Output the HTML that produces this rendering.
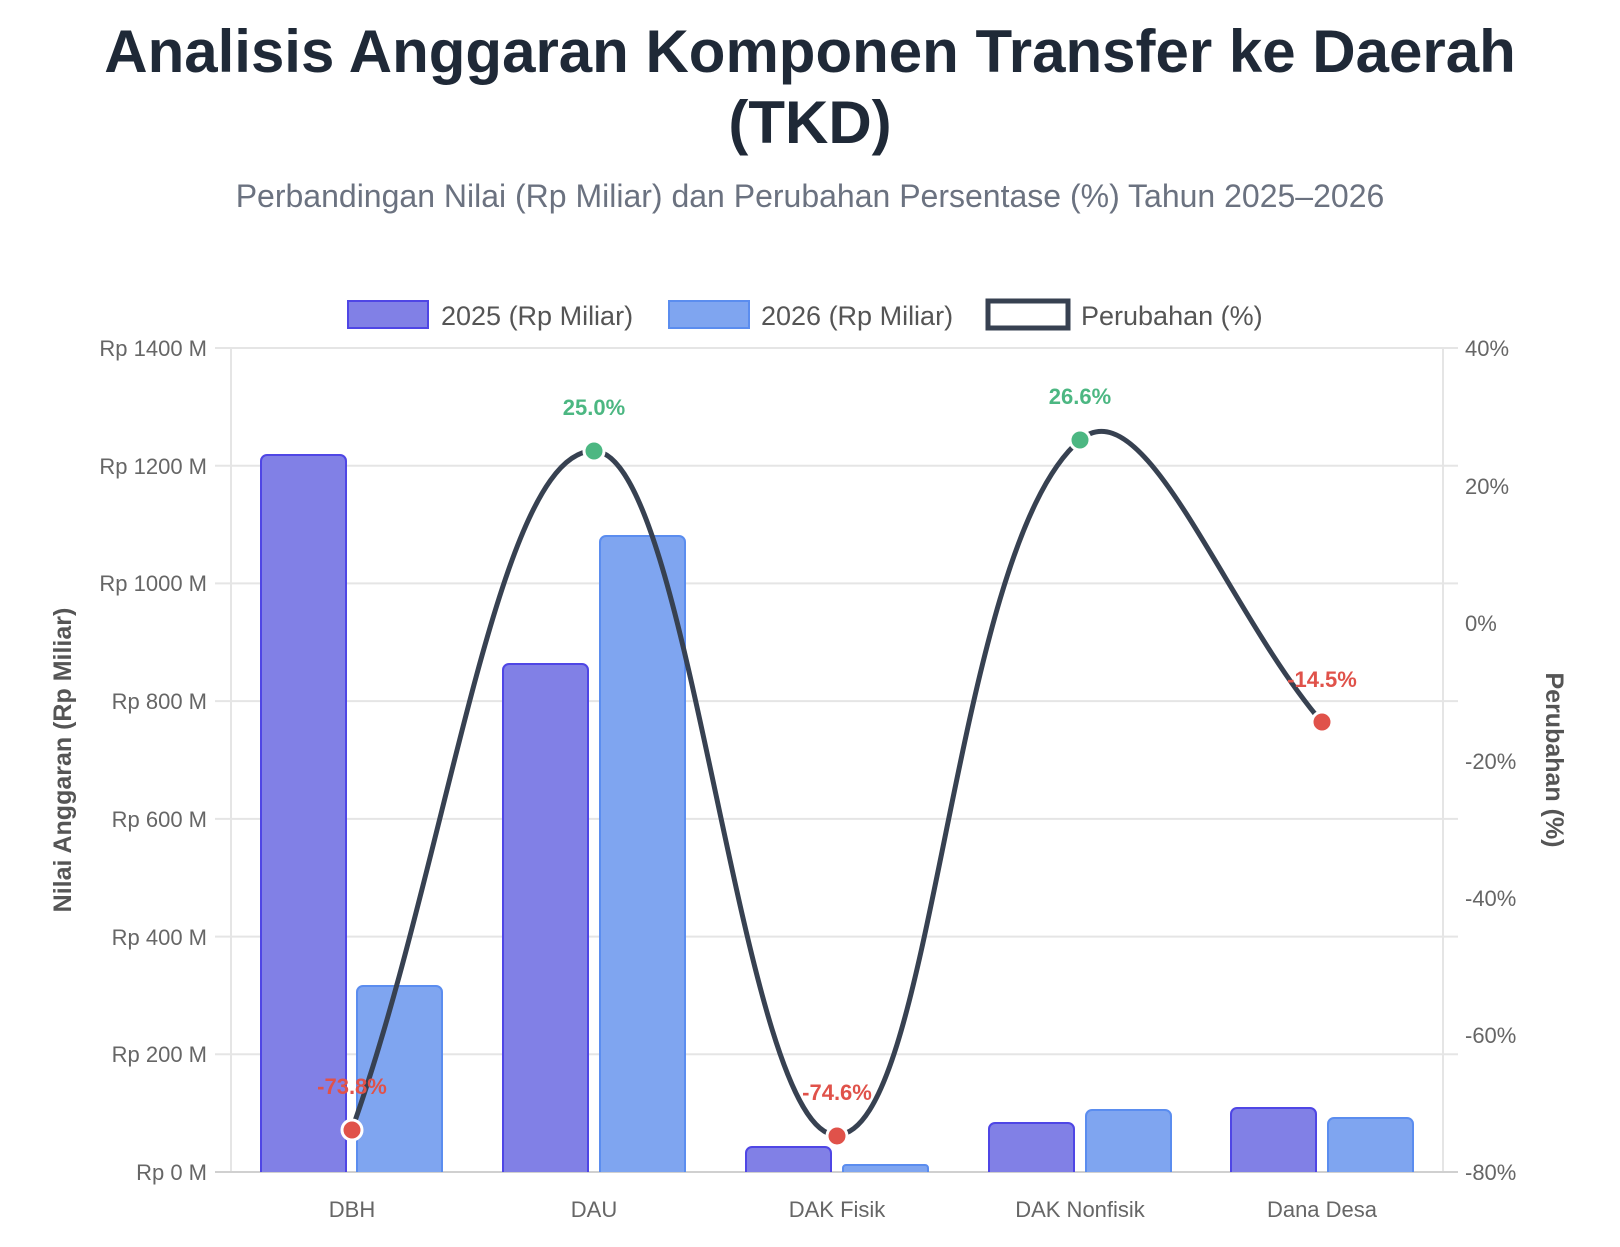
<!DOCTYPE html>
<html><head><meta charset="utf-8"><style>
html,body{margin:0;padding:0;background:#fff;}
body{width:1620px;height:1242px;overflow:hidden;font-family:"Liberation Sans",Arial,sans-serif;}
</style></head><body>
<svg width="1620" height="1242" viewBox="0 0 1620 1242" xmlns="http://www.w3.org/2000/svg" font-family="Liberation Sans, Arial, sans-serif">
<text x="810" y="72" text-anchor="middle" font-size="60" font-weight="bold" fill="#1f2937">Analisis Anggaran Komponen Transfer ke Daerah</text>
<text x="810" y="143" text-anchor="middle" font-size="60" font-weight="bold" fill="#1f2937">(TKD)</text>
<text x="810" y="207" text-anchor="middle" font-size="32" fill="#6b7280">Perbandingan Nilai (Rp Miliar) dan Perubahan Persentase (%) Tahun 2025–2026</text>
<!-- legend -->
<rect x="348" y="301" width="80" height="27" fill="#8180e6" stroke="#4f46e5" stroke-width="2"/>
<text x="441" y="325" font-size="27" fill="#555">2025 (Rp Miliar)</text>
<rect x="669" y="301" width="80" height="27" fill="#7fa5f0" stroke="#5b8def" stroke-width="2"/>
<text x="761" y="325" font-size="27" fill="#555">2026 (Rp Miliar)</text>
<rect x="988" y="301" width="80" height="27" fill="#fff" stroke="#374151" stroke-width="5"/>
<text x="1081" y="325" font-size="27" fill="#555">Perubahan (%)</text>
<!-- grid -->
<g stroke="#e5e5e5" stroke-width="2">
<line x1="215" y1="348" x2="1458" y2="348"/>
<line x1="215" y1="465.7" x2="1458" y2="465.7"/>
<line x1="215" y1="583.4" x2="1458" y2="583.4"/>
<line x1="215" y1="701.1" x2="1458" y2="701.1"/>
<line x1="215" y1="818.9" x2="1458" y2="818.9"/>
<line x1="215" y1="936.6" x2="1458" y2="936.6"/>
<line x1="215" y1="1054.3" x2="1458" y2="1054.3"/>
<line x1="231" y1="348" x2="231" y2="1172"/>
<line x1="1443" y1="348" x2="1443" y2="1172"/>
</g>
<line x1="215" y1="1172" x2="1458" y2="1172" stroke="#d0d0d0" stroke-width="2"/>
<g font-size="22" fill="#666" text-anchor="end">
<text x="207" y="356">Rp 1400 M</text>
<text x="207" y="474">Rp 1200 M</text>
<text x="207" y="591">Rp 1000 M</text>
<text x="207" y="709">Rp 800 M</text>
<text x="207" y="827">Rp 600 M</text>
<text x="207" y="945">Rp 400 M</text>
<text x="207" y="1062">Rp 200 M</text>
<text x="207" y="1180">Rp 0 M</text>
</g>
<g font-size="22" fill="#666" text-anchor="start">
<text x="1465" y="356">40%</text>
<text x="1465" y="494">20%</text>
<text x="1465" y="631">0%</text>
<text x="1465" y="769">-20%</text>
<text x="1465" y="906">-40%</text>
<text x="1465" y="1043">-60%</text>
<text x="1465" y="1180">-80%</text>
</g>
<g font-size="22" fill="#666" text-anchor="middle">
<text x="352" y="1217">DBH</text>
<text x="594" y="1217">DAU</text>
<text x="837" y="1217">DAK Fisik</text>
<text x="1080" y="1217">DAK Nonfisik</text>
<text x="1322" y="1217">Dana Desa</text>
</g>
<text transform="translate(71,760) rotate(-90)" text-anchor="middle" font-size="25" font-weight="bold" fill="#555">Nilai Anggaran (Rp Miliar)</text>
<text transform="translate(1546,760) rotate(90)" text-anchor="middle" font-size="25" font-weight="bold" fill="#555">Perubahan (%)</text>
<!-- bars -->
<g stroke-width="2">
<path d="M261,1172 V461 a6,6 0 0 1 6,-6 H340 a6,6 0 0 1 6,6 V1172" fill="#8180e6" stroke="#4f46e5"/>
<path d="M357,1172 V992 a6,6 0 0 1 6,-6 H436 a6,6 0 0 1 6,6 V1172" fill="#7fa5f0" stroke="#5b8def"/>
<path d="M503,1172 V670 a6,6 0 0 1 6,-6 H582 a6,6 0 0 1 6,6 V1172" fill="#8180e6" stroke="#4f46e5"/>
<path d="M600,1172 V542 a6,6 0 0 1 6,-6 H679 a6,6 0 0 1 6,6 V1172" fill="#7fa5f0" stroke="#5b8def"/>
<path d="M746,1172 V1153 a6,6 0 0 1 6,-6 H825 a6,6 0 0 1 6,6 V1172" fill="#8180e6" stroke="#4f46e5"/>
<path d="M843,1172 V1168 a3,3 0 0 1 3,-3 H925 a3,3 0 0 1 3,3 V1172" fill="#7fa5f0" stroke="#5b8def"/>
<path d="M989,1172 V1129 a6,6 0 0 1 6,-6 H1068 a6,6 0 0 1 6,6 V1172" fill="#8180e6" stroke="#4f46e5"/>
<path d="M1086,1172 V1116 a6,6 0 0 1 6,-6 H1165 a6,6 0 0 1 6,6 V1172" fill="#7fa5f0" stroke="#5b8def"/>
<path d="M1231,1172 V1114 a6,6 0 0 1 6,-6 H1310 a6,6 0 0 1 6,6 V1172" fill="#8180e6" stroke="#4f46e5"/>
<path d="M1328,1172 V1124 a6,6 0 0 1 6,-6 H1407 a6,6 0 0 1 6,6 V1172" fill="#7fa5f0" stroke="#5b8def"/>
</g>
<!-- line -->
<path d="M352,1129.4 C448.8,858 497.5,449.9 594,451 C691.5,452.1 740.5,1137.2 837,1135 C934.9,1132.8 951.1,549.7 1080,440 C1145.1,384.6 1225.2,609.4 1322,722.3" fill="none" stroke="#374151" stroke-width="5"/>
<g stroke="#fff" stroke-width="3">
<circle cx="352" cy="1130" r="10" fill="#e0524a"/>
<circle cx="594" cy="451" r="10" fill="#4cb782"/>
<circle cx="837" cy="1136" r="10" fill="#e0524a"/>
<circle cx="1080" cy="440" r="10" fill="#4cb782"/>
<circle cx="1322" cy="722" r="10" fill="#e0524a"/>
</g>
<g font-size="22" font-weight="bold" text-anchor="middle">
<text x="352" y="1094" fill="#e0524a">-73.8%</text>
<text x="594" y="415" fill="#4cb782">25.0%</text>
<text x="837" y="1100" fill="#e0524a">-74.6%</text>
<text x="1080" y="404" fill="#4cb782">26.6%</text>
<text x="1322" y="687" fill="#e0524a">-14.5%</text>
</g>
</svg>
</body></html>
